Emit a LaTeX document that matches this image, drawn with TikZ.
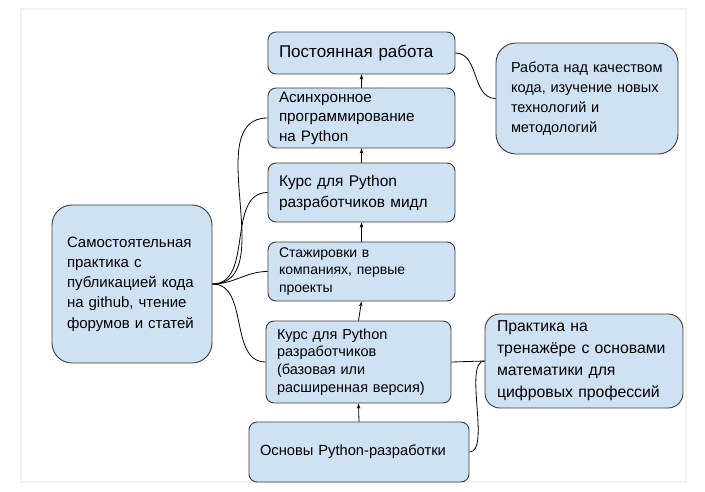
\documentclass[tikz,border=0pt]{standalone}
\usepackage{fontspec}
\setmainfont{Liberation Sans}
\usepackage{tikz}
\usetikzlibrary{arrows.meta,positioning}

\definecolor{boxfill}{HTML}{CFE2F3}
\definecolor{boxline}{HTML}{3A3A3A}
\definecolor{framegray}{HTML}{F2F2F2}

\tikzset{
  stagebox/.style={draw=boxline, fill=boxfill, rounded corners=8pt, line width=0.9pt,
    align=left, inner xsep=11pt, inner ysep=0pt, font=\fontsize{14.5}{20}\selectfont},
  sidebox/.style={stagebox, rounded corners=20pt, inner xsep=15pt},
  link/.style={line width=0.8pt, black},
}

\begin{document}
\begin{tikzpicture}[x=1pt, y=-1pt, >={Stealth[length=5pt,width=3.5pt]}]

        \useasboundingbox (0,0) rectangle (705,491);

        % Light frame around the picture
        \draw[framegray, line width=2pt] (21,9) rectangle (686,482);

        % Main track, bottom to top
        \node[stagebox, minimum width=220pt, minimum height=60pt, text width=198pt,
              font=\fontsize{14.7}{20}\selectfont] (basics) at (359,452) {Основы Python-разработки};
        \node[stagebox, minimum width=185pt, minimum height=82pt, text width=163pt,
              font=\fontsize{14.5}{17.7}\selectfont] (basic) at (358.5,362)
              {Курс для Python\\разработчиков\\(базовая или\\расширенная версия)};
        \node[stagebox, minimum width=187pt, minimum height=59pt, text width=165pt,
              font=\fontsize{14}{17.5}\selectfont] (intern) at (361.5,271.5)
              {Стажировки в\\компаниях, первые\\проекты};
        \node[stagebox, minimum width=187pt, minimum height=59pt, text width=165pt,
              font=\fontsize{15.5}{21}\selectfont] (middle) at (361.5,192.5)
              {Курс для Python\\разработчиков мидл};
        \node[stagebox, minimum width=187pt, minimum height=60pt, text width=165pt,
              font=\fontsize{15.2}{19.5}\selectfont] (async) at (361.5,118)
              {Асинхронное\\программирование\\на Python};
        \node[stagebox, minimum width=187pt, minimum height=42pt, text width=165pt,
              font=\fontsize{17}{20}\selectfont] (job) at (361.5,53) {Постоянная работа};

        % Side boxes
        \node[sidebox, minimum width=160pt, minimum height=158pt, text width=130pt,
              font=\fontsize{15}{20.3}\selectfont] (self) at (132,284)
              {Самостоятельная\\практика с\\публикацией кода\\на github, чтение\\форумов и статей};
        \node[sidebox, minimum width=182pt, minimum height=111pt, text width=152pt] (quality) at (587,98.5)
              {Работа над качеством\\кода, изучение новых\\технологий и\\методологий};
        \node[sidebox, rounded corners=15pt, inner xsep=12pt, minimum width=198pt, minimum height=94pt,
              text width=174pt, font=\fontsize{15.8}{22}\selectfont] (trainer) at (584,361)
              {Практика на\\тренажёре с основами\\математики для\\цифровых профессий};

        % Arrows up the track
        \draw[link, ->] (basics.north) -- (basic.south);
        \draw[link, ->] (basic.north) -- (intern.south);
        \draw[link, ->] (intern.north) -- (middle.south);
        \draw[link, ->] (middle.north) -- (async.south);
        \draw[link, ->] (async.north) -- (job.south);

        % Self practice goes along with the courses
        \foreach \target in {async, middle, intern, basic}
          \draw[link] (self.east) to[out=0, in=180] (\target.west);

        % Side links on the right
        \draw[link] (job.east) to[out=0, in=180] (quality.west);
        \draw[link] (basic.east) -- (trainer.west);
        \draw[link] (basics.east) to[out=0, in=180, looseness=0.6] (trainer.west);

\end{tikzpicture}
\end{document}
